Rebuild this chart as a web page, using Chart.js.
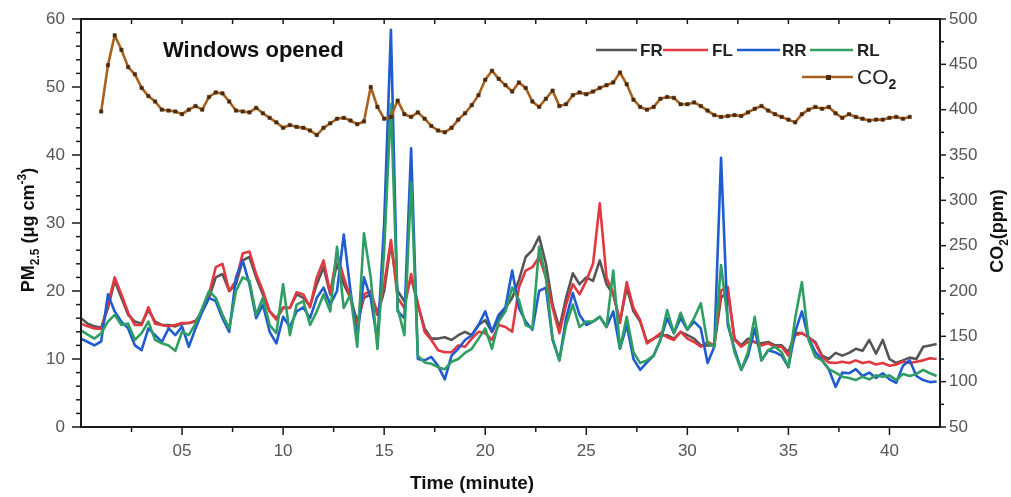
<!DOCTYPE html>
<html>
<head>
<meta charset="utf-8">
<title>PM2.5 and CO2 - windows opened</title>
<script src="https://cdn.jsdelivr.net/npm/chart.js@4.4.1/dist/chart.umd.min.js"></script>
<style>
html, body { margin: 0; padding: 0; background: #fff; }
#wrap { position: relative; width: 1011px; height: 497px; }
</style>
</head>
<body>
<div id="wrap"><canvas id="pmChart"></canvas></div>
<script>
// one reading every 20 s
const STEP = 1 / 3;

// PM2.5 (ug/m3) at the four positions
const fr = [
    16.0, 15.2, 14.8, 14.6, 17.5, 21.5, 19.0, 16.5, 15.5, 15.2,
    17.2, 15.5, 15.0, 15.0, 14.8, 15.2, 15.3, 15.6, 17.0, 19.0,
    22.0, 22.5, 20.0, 21.0, 24.5, 25.0, 22.0, 19.5, 17.0, 16.0,
    17.5, 17.5, 19.5, 19.0, 17.8, 21.0, 23.5, 19.5, 24.0, 21.0,
    19.0, 15.5, 19.0, 19.5, 16.5, 20.0, 27.0, 20.0, 18.5, 22.0,
    18.0, 14.5, 13.0, 13.0, 13.2, 12.8, 13.5, 14.0, 13.5, 15.0,
    15.7, 14.0, 16.0, 17.5, 19.0, 21.6, 25.0, 26.0, 28.0, 24.0,
    18.0, 14.5, 19.0, 22.6, 21.0, 22.0, 21.5, 24.5, 21.0, 19.5,
    15.5, 20.5, 17.0, 15.5, 12.5, 13.0, 13.5, 13.5, 13.0, 14.0,
    13.5, 13.0, 12.0, 12.0, 12.0, 19.0, 20.0, 13.0, 12.0, 13.0,
    12.5, 12.3, 12.5, 12.0, 12.0, 11.0, 13.8, 13.8, 13.2, 12.5,
    10.5, 10.0, 10.9, 10.5, 10.9, 11.5, 11.2, 12.8, 10.8, 12.8,
    10.0, 9.4, 9.8, 10.2, 10.0, 11.8, 12.0, 12.2
];
const fl = [
    15.2, 14.8, 14.5, 14.4, 18.0, 22.0, 19.5, 16.8, 15.0, 15.0,
    17.6, 15.2, 15.0, 14.8, 15.0, 15.3, 15.3, 15.5, 17.0, 19.5,
    23.5, 24.0, 20.0, 21.5, 25.5, 25.8, 22.5, 20.0, 17.0, 15.8,
    17.6, 17.5, 19.8, 19.5, 17.6, 22.0, 24.5, 19.7, 25.5, 22.0,
    19.0, 14.7, 19.5, 20.0, 16.7, 21.0, 27.5, 19.0, 17.5, 22.5,
    18.2, 14.0, 12.8, 11.3, 11.0, 11.0, 12.0, 11.8, 13.0, 14.0,
    13.8, 12.8, 15.0, 14.7, 14.0, 20.5, 23.0, 23.5, 25.0, 22.0,
    17.5, 13.8, 18.0, 21.0, 19.5, 21.5, 24.0, 32.9, 22.0, 19.7,
    15.3, 21.3, 17.5, 15.7, 12.3, 13.0, 13.8, 13.2, 12.8, 14.0,
    13.0, 12.5, 11.8, 12.5, 12.0, 20.1, 20.6, 12.8, 11.8, 12.5,
    12.5, 12.0, 12.3, 11.8, 11.8, 10.5, 13.5, 13.8, 13.2, 12.3,
    10.3, 9.5, 9.4, 9.6, 9.4, 9.8, 9.4, 9.6, 9.2, 9.4,
    9.0, 9.2, 9.6, 9.4, 9.6, 9.8, 10.1, 10.0
];
const rr = [
    13.0, 12.5, 12.0, 12.6, 19.5, 17.0, 15.5, 14.5, 12.0, 11.3,
    14.5, 13.5, 12.5, 14.5, 13.5, 14.8, 11.8, 14.5, 17.0, 19.0,
    18.5, 16.0, 14.0, 22.0, 24.5, 21.0, 16.0, 18.0, 14.0, 12.3,
    16.2, 14.7, 17.0, 17.6, 16.0, 19.0, 20.5, 18.0, 20.0, 28.3,
    20.0, 13.0, 22.0, 19.0, 12.5, 30.0, 58.4, 17.0, 16.0, 41.0,
    10.0, 9.8, 10.3, 9.0, 7.0, 10.5, 11.5, 12.8, 13.5, 15.0,
    17.0, 14.0, 16.5, 17.6, 23.0, 17.5, 15.5, 14.3, 20.0, 20.5,
    12.8, 9.8, 16.0, 19.7, 16.5, 15.0, 15.5, 16.2, 14.7, 17.0,
    11.5, 15.0, 10.0, 8.4, 9.5, 10.5, 12.8, 16.0, 13.8, 16.0,
    14.3, 15.5, 14.5, 9.4, 11.8, 39.6, 15.0, 11.5, 8.4, 10.5,
    14.5, 9.8, 11.3, 11.0, 10.5, 8.8, 14.0, 17.0, 13.0, 11.0,
    9.8, 8.5, 5.9, 8.0, 7.9, 8.5, 7.5, 8.0, 7.2, 7.9,
    7.0, 6.5, 9.0, 9.8, 7.5, 6.9, 6.6, 6.7
];
const rl = [
    14.2, 13.6, 13.0, 13.8, 15.5, 16.5, 15.0, 15.2, 12.8, 13.8,
    15.5, 12.8, 12.3, 12.0, 11.2, 14.0, 13.5, 15.2, 17.5, 20.0,
    19.0, 16.5, 14.5, 20.0, 22.0, 21.5, 16.5, 19.0, 15.0, 13.8,
    21.0, 13.5, 18.0, 18.5, 15.0, 17.0, 19.5, 17.0, 26.5, 17.5,
    19.5, 11.8, 28.5, 22.0, 11.5, 26.0, 47.5, 17.5, 13.5, 36.0,
    10.5, 9.5, 9.3, 8.8, 8.5, 9.6, 10.0, 10.9, 11.5, 13.0,
    14.5, 11.5, 15.5, 17.0, 20.5, 18.7, 15.0, 14.5, 26.5, 22.0,
    13.0, 9.8, 15.0, 18.0, 14.7, 15.5, 15.5, 16.2, 14.7, 23.0,
    11.5, 16.2, 11.0, 9.4, 9.8, 10.5, 12.8, 17.2, 13.8, 16.8,
    14.3, 16.0, 18.2, 12.3, 11.8, 23.8, 15.7, 11.0, 8.4, 11.0,
    16.2, 9.8, 11.3, 11.8, 11.0, 8.8, 16.0, 21.3, 12.8, 10.3,
    9.8, 8.5, 8.0, 7.4, 7.2, 6.9, 7.4, 7.0, 7.6, 7.4,
    7.6, 6.9, 7.8, 7.5, 7.8, 8.4, 7.9, 7.5
];

// CO2 (ppm), logger started at minute 1
const co2Start = 1;
const co2 = [
    398, 449, 482, 466, 447, 439, 424, 415, 409, 400,
    399, 398, 395, 400, 404, 400, 414, 419, 418, 409,
    399, 398, 397, 402, 396, 391, 386, 380, 383, 381,
    380, 377, 372, 380, 385, 390, 391, 388, 384, 387,
    425, 403, 390, 392, 410, 395, 392, 397, 390, 382,
    377, 375, 380, 389, 396, 405, 416, 433, 443, 434,
    427, 420, 430, 424, 409, 403, 412, 421, 404, 406,
    416, 419, 417, 420, 424, 427, 430, 441, 428, 411,
    403, 400, 403, 412, 414, 413, 406, 406, 408, 404,
    399, 394, 392, 393, 394, 393, 397, 401, 404, 399,
    395, 392, 389, 386, 395, 400, 403, 401, 403, 396,
    391, 395, 392, 390, 388, 389, 389, 391, 392, 390,
    392
];

const timeTicks = [5, 10, 15, 20, 25, 30, 35, 40];
const pmTicks = [0, 10, 20, 30, 40, 50, 60];
const co2Ticks = [50, 100, 150, 200, 250, 300, 350, 400, 450, 500];

const minutes = fr.map((_, i) => i * STEP);
const co2Minutes = co2.map((_, i) => co2Start + i * STEP);
const toPoints = (xs, ys) => ys.map((v, i) => ({ x: xs[i], y: v }));

const FONT = "'Liberation Sans', Arial, Helvetica, sans-serif";
const INK = '#1a1a1a';
const colors = { fr: '#555555', fl: '#e2383f', rr: '#1f5ccf', rl: '#2f9e62', co2: '#a9611f', co2Dot: '#4a290c' };

// draws a run of text pieces (for sub/superscripts) centred on 0,0
function richText(ctx, parts) {
    let total = 0;
    parts.forEach(p => { ctx.font = p.font; total += ctx.measureText(p.text).width; });
    let x = -total / 2;
    parts.forEach(p => {
        ctx.font = p.font;
        ctx.fillText(p.text, x, p.dy || 0);
        x += ctx.measureText(p.text).width;
    });
}

const decor = {
    id: 'decor',
    afterDraw(chart) {
        const { ctx, chartArea: a, scales: { x, y, y2 } } = chart;
        ctx.save();
        ctx.strokeStyle = INK;
        const seg = (x1, y1, x2, y2b, w) => {
            ctx.lineWidth = w;
            ctx.beginPath(); ctx.moveTo(x1, y1); ctx.lineTo(x2, y2b); ctx.stroke();
        };

        // frame
        ctx.lineWidth = 2;
        ctx.strokeRect(a.left, a.top, a.right - a.left, a.bottom - a.top);

        // time axis ticks, minors every 2.5 min; top axis ticks point inward
        for (let t = 2.5; t < x.max; t += 2.5) {
            const px = x.getPixelForValue(t);
            const major = t % 5 === 0;
            seg(px, a.bottom, px, a.bottom + (major ? 8 : 5), 1.5);
            seg(px, a.top, px, a.top + 5, 1.5);
        }
        for (let v = 0; v <= y.max; v += 2) {
            const py = y.getPixelForValue(v);
            seg(a.left - (v % 10 === 0 ? 9 : 5), py, a.left, py, 1.5);
        }
        for (let v = y2.min; v <= y2.max; v += 25) {
            const py = y2.getPixelForValue(v);
            seg(a.right, py, a.right + (v % 50 === 0 ? 6 : 4), py, 1.5);
        }

        ctx.fillStyle = '#111';
        ctx.textBaseline = 'alphabetic';
        ctx.textAlign = 'left';

        // axis titles
        const b18 = `bold 18px ${FONT}`, b12 = `bold 12px ${FONT}`;
        ctx.save();
        ctx.translate(34, 230);
        ctx.rotate(-Math.PI / 2);
        richText(ctx, [
            { text: 'PM', font: b18 },
            { text: '2.5', font: b12, dy: 5 },
            { text: ' (\u03bcg cm', font: b18 },
            { text: '-3', font: b12, dy: -8 },
            { text: ')', font: b18 }
        ]);
        ctx.restore();

        ctx.save();
        ctx.translate(1003, 231);
        ctx.rotate(-Math.PI / 2);
        richText(ctx, [
            { text: 'CO', font: b18 },
            { text: '2', font: b12, dy: 5 },
            { text: '(ppm)', font: b18 }
        ]);
        ctx.restore();

        ctx.save();
        ctx.translate(472, 489);
        richText(ctx, [{ text: 'Time (minute)', font: `bold 19px ${FONT}` }]);
        ctx.restore();

        ctx.font = `bold 22px ${FONT}`;
        ctx.fillText('Windows opened', 163, 57);

        // legend
        const legendRow = [
            { label: 'FR', color: colors.fr, x0: 596, x1: 637, tx: 640 },
            { label: 'FL', color: colors.fl, x0: 663, x1: 708, tx: 712 },
            { label: 'RR', color: colors.rr, x0: 737, x1: 780, tx: 782 },
            { label: 'RL', color: colors.rl, x0: 810, x1: 853, tx: 857 }
        ];
        ctx.font = `bold 17px ${FONT}`;
        legendRow.forEach(item => {
            ctx.strokeStyle = item.color;
            seg(item.x0, 50, item.x1, 50, 2.5);
            ctx.fillStyle = '#222';
            ctx.fillText(item.label, item.tx, 56);
        });
        ctx.strokeStyle = colors.co2;
        seg(802, 77, 853, 77, 2.4);
        ctx.fillStyle = colors.co2Dot;
        ctx.fillRect(826, 75, 5, 5);
        ctx.fillStyle = '#222';
        ctx.font = `21px ${FONT}`;
        ctx.fillText('CO', 857, 84);
        const coW = ctx.measureText('CO').width;
        ctx.font = `bold 14px ${FONT}`;
        ctx.fillText('2', 857 + coW, 89);

        ctx.restore();
    }
};

const tickFont = { family: FONT, size: 17 };
const pmLine = (label, data, color, order) => ({
    label, data: toPoints(minutes, data), borderColor: color, backgroundColor: color,
    borderWidth: 2.6, pointRadius: 0, tension: 0, yAxisID: 'y', order,
    borderJoinStyle: 'round'
});

Chart.defaults.font.family = FONT;

new Chart(document.getElementById('pmChart'), {
    type: 'line',
    data: {
        datasets: [
            pmLine('FR', fr, colors.fr, 5),
            pmLine('FL', fl, colors.fl, 4),
            pmLine('RR', rr, colors.rr, 3),
            pmLine('RL', rl, colors.rl, 2),
            {
                label: 'CO2', data: toPoints(co2Minutes, co2), yAxisID: 'y2', order: 1,
                borderColor: colors.co2, borderWidth: 2.6, tension: 0, borderJoinStyle: 'round',
                pointStyle: 'rect', pointRadius: 2.4, pointBackgroundColor: colors.co2Dot,
                pointBorderColor: colors.co2Dot, pointBorderWidth: 0.5
            }
        ]
    },
    options: {
        responsive: true,
        maintainAspectRatio: false,
        animation: false,
        devicePixelRatio: 1,
        layout: { padding: { top: 19, left: 0, right: 0, bottom: 0 } },
        plugins: { legend: { display: false }, tooltip: { enabled: false } },
        scales: {
            x: {
                type: 'linear', min: 0, max: 42.5,
                afterBuildTicks: s => { s.ticks = timeTicks.map(v => ({ value: v })); },
                afterFit: s => { s.height = 70; s.paddingLeft = 0; s.paddingRight = 0; },
                grid: { display: false, drawTicks: true, tickLength: 8 },
                border: { display: false },
                ticks: {
                    padding: 6, color: '#555', font: tickFont, maxRotation: 0, autoSkip: false,
                    callback: v => String(v).padStart(2, '0')
                }
            },
            y: {
                position: 'left', min: 0, max: 60,
                afterBuildTicks: s => { s.ticks = pmTicks.map(v => ({ value: v })); },
                afterFit: s => { s.width = 81; s.paddingTop = 0; s.paddingBottom = 0; },
                grid: { display: false, drawTicks: true, tickLength: 9 },
                border: { display: false },
                ticks: { padding: 7, color: '#555', font: tickFont }
            },
            y2: {
                position: 'right', min: 50, max: 500,
                afterBuildTicks: s => { s.ticks = co2Ticks.map(v => ({ value: v })); },
                afterFit: s => { s.width = 71; s.paddingTop = 0; s.paddingBottom = 0; },
                grid: { display: false, drawTicks: true, tickLength: 6 },
                border: { display: false },
                ticks: { padding: 3, color: '#555', font: tickFont }
            }
        }
    },
    plugins: [decor]
});
</script>
</body>
</html>
